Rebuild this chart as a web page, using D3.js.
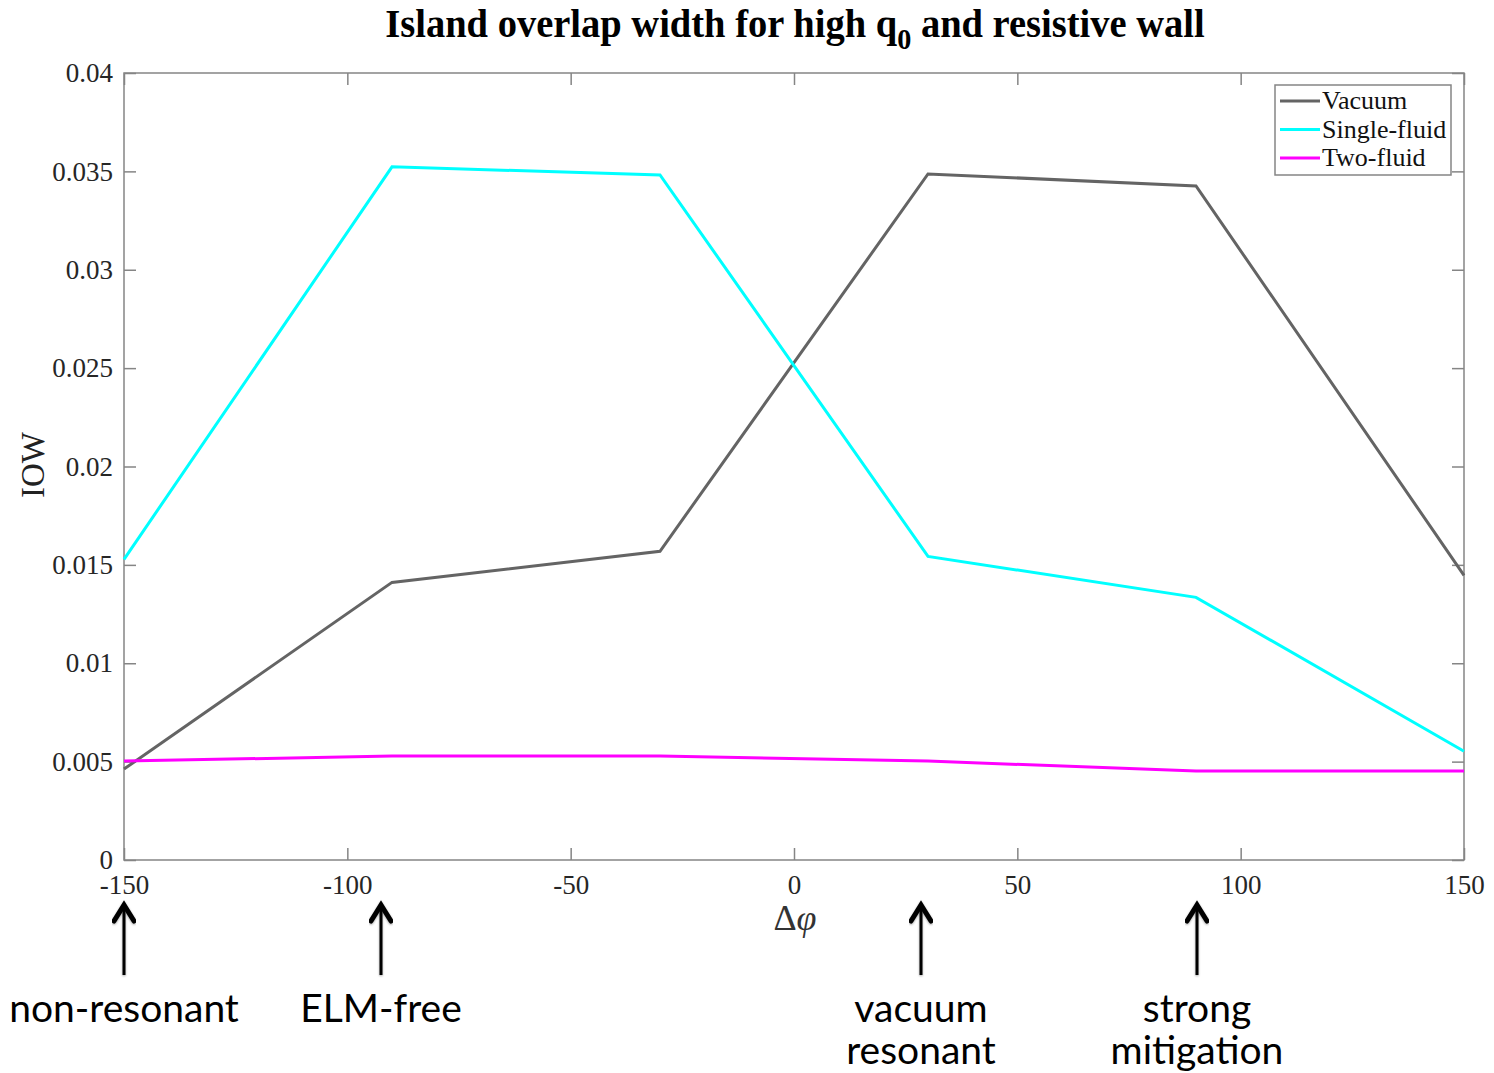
<!DOCTYPE html>
<html>
<head>
<meta charset="utf-8">
<script src="https://cdn.jsdelivr.net/npm/d3@7"></script>
<style>
  html, body { margin: 0; padding: 0; background: #fff; }
  svg { display: block; }
</style>
</head>
<body>
<svg id="chart" width="1494" height="1073"></svg>
<script>
// Phase difference (degrees) at which the island overlap width was computed
const phase = [-150, -90, -30, 30, 90, 150];

// Island overlap width for each model
const vacuum      = [0.00462, 0.01411, 0.01569, 0.03487, 0.03426, 0.01447];
const singleFluid = [0.01528, 0.03523, 0.03482, 0.01543, 0.01335, 0.00553];
const twoFluid    = [0.00503, 0.00528, 0.00528, 0.00503, 0.00452, 0.00452];

const seriesNames  = ["Vacuum", "Single-fluid", "Two-fluid"];
const seriesColors = ["#646464", "#00ffff", "#ff00ff"];

const xTicks = [-150, -100, -50, 0, 50, 100, 150];
const xTickLabels = ["-150", "-100", "-50", "0", "50", "100", "150"];
const yTicks = [0, 0.005, 0.01, 0.015, 0.02, 0.025, 0.03, 0.035, 0.04];
const yTickLabels = ["0", "0.005", "0.01", "0.015", "0.02", "0.025", "0.03", "0.035", "0.04"];

// Regime annotations beneath the axis: phase position and label lines
const regimePhase  = [-150, -92.5, 28.5, 90.3];
const regimeLabels = [["non-resonant"], ["ELM-free"], ["vacuum", "resonant"], ["strong", "mitigation"]];

const svg = d3.select("#chart");
const m = { left: 124, right: 1464, top: 73, bottom: 860 };

const x = d3.scaleLinear().domain([-150, 150]).range([m.left, m.right]);
const y = d3.scaleLinear().domain([0, 0.04]).range([m.bottom, m.top]);

const axisColor = "#858585";
const serif = "'Liberation Serif', 'Times New Roman', serif";

// Frame box
svg.append("rect")
  .attr("x", m.left).attr("y", m.top)
  .attr("width", m.right - m.left).attr("height", m.bottom - m.top)
  .attr("fill", "none").attr("stroke", axisColor).attr("stroke-width", 1.5);

// Axes with inward ticks on all four sides
function styleAxis(g) {
  g.selectAll(".domain").remove();
  g.selectAll(".tick line").attr("stroke", axisColor).attr("stroke-width", 1.5);
  g.selectAll(".tick text").attr("fill", "#262626").style("font-family", serif).style("font-size", "27px");
}
svg.append("g").attr("transform", `translate(0,${m.bottom})`)
  .call(d3.axisBottom(x).tickValues(xTicks).tickFormat((d, i) => xTickLabels[i]).tickSizeInner(-12).tickPadding(15))
  .call(styleAxis);
svg.append("g").attr("transform", `translate(0,${m.top})`)
  .call(d3.axisTop(x).tickValues(xTicks).tickFormat("").tickSizeInner(-12))
  .call(styleAxis);
svg.append("g").attr("transform", `translate(${m.left},0)`)
  .call(d3.axisLeft(y).tickValues(yTicks).tickFormat((d, i) => yTickLabels[i]).tickSizeInner(-12).tickPadding(11))
  .call(styleAxis);
svg.append("g").attr("transform", `translate(${m.right},0)`)
  .call(d3.axisRight(y).tickValues(yTicks).tickFormat("").tickSizeInner(-12))
  .call(styleAxis);

// Data lines
const seriesValues = [vacuum, singleFluid, twoFluid];
const line = d3.line().x(d => x(d[0])).y(d => y(d[1]));
const plot = svg.append("g");
seriesValues.forEach((vals, i) => {
  plot.append("path")
    .datum(phase.map((p, j) => [p, vals[j]]))
    .attr("d", line)
    .attr("fill", "none")
    .attr("stroke", seriesColors[i])
    .attr("stroke-width", 3)
    .attr("stroke-linejoin", "miter");
});

// Title (condensed bold serif)
const title = svg.append("text")
  .attr("transform", "translate(795,37) scale(0.94,1)")
  .attr("text-anchor", "middle")
  .style("font-family", serif).style("font-weight", "bold").style("font-size", "41px")
  .attr("fill", "#000");
title.append("tspan").text("Island overlap width for high q");
title.append("tspan").attr("dy", 12).style("font-size", "30px").text("0");
title.append("tspan").attr("dy", -12).text(" and resistive wall");

// Axis labels
svg.append("text")
  .attr("x", 795).attr("y", 930)
  .attr("text-anchor", "middle")
  .style("font-family", serif).style("font-size", "36px").attr("fill", "#333")
  .html("Δ<tspan font-style='italic'>φ</tspan>");
svg.append("text")
  .attr("transform", "translate(44,465) rotate(-90)")
  .attr("text-anchor", "middle")
  .style("font-family", serif).style("font-size", "33px").attr("fill", "#222")
  .text("IOW");

// Legend
const lg = svg.append("g");
lg.append("rect")
  .attr("x", 1275).attr("y", 85).attr("width", 176).attr("height", 90)
  .attr("fill", "#fff").attr("stroke", axisColor).attr("stroke-width", 1.5);
seriesNames.forEach((name, i) => {
  const yy = 101 + i * 28.5;
  lg.append("line")
    .attr("x1", 1280).attr("x2", 1320).attr("y1", yy).attr("y2", yy)
    .attr("stroke", seriesColors[i]).attr("stroke-width", 3);
  lg.append("text")
    .attr("x", 1322).attr("y", yy + 8)
    .style("font-family", serif).style("font-size", "26px").attr("fill", "#111")
    .text(name);
});

// Regime arrows and labels
const defs = svg.append("defs");
defs.append("filter").attr("id", "soft")
  .append("feDropShadow")
  .attr("dx", 0).attr("dy", 1).attr("stdDeviation", 1.2)
  .attr("flood-color", "#000").attr("flood-opacity", 0.35);

const ann = svg.append("g");
regimePhase.forEach((p, i) => {
  const ax = Math.round(x(p));
  const g = ann.append("g").attr("filter", "url(#soft)");
  g.append("line")
    .attr("x1", ax).attr("x2", ax).attr("y1", 905).attr("y2", 975)
    .attr("stroke", "#000").attr("stroke-width", 3);
  g.append("path")
    .attr("d", `M${ax - 10},${921} L${ax},${905} L${ax + 10},${921}`)
    .attr("fill", "none").attr("stroke", "#000").attr("stroke-width", 5)
    .attr("stroke-linejoin", "miter").attr("stroke-linecap", "round");
  regimeLabels[i].forEach((txt, k) => {
    ann.append("text")
      .attr("x", ax).attr("y", 1022 + k * 42)
      .attr("text-anchor", "middle")
      .style("font-family", "'Lato', 'Noto Sans', sans-serif").style("font-size", "39px")
      .attr("fill", "#000")
      .text(txt);
  });
});
</script>
</body>
</html>
